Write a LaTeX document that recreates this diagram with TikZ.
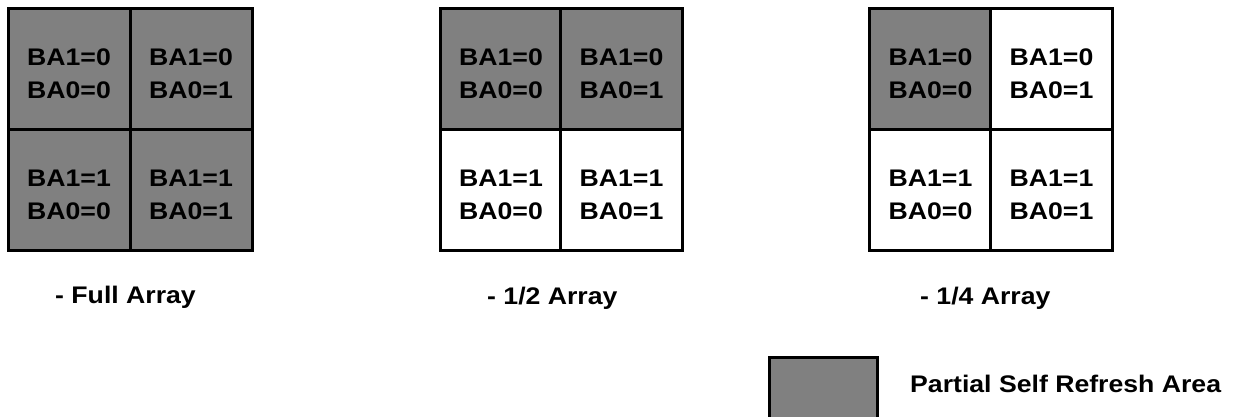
\documentclass[tikz,border=0pt]{standalone}
\usepackage{fontspec}
\newfontfamily\labfont[FakeStretch=1.11]{Liberation Sans Bold}
\definecolor{cellgray}{HTML}{808080}
\begin{document}
\begin{tikzpicture}[x=1pt,y=-1pt,
  cellbox/.style={draw=black,line width=3pt,minimum width=122pt,minimum height=121pt,inner sep=0pt,outer sep=0pt},
  shaded/.style={cellbox,fill=cellgray},
  plain/.style={cellbox,fill=white},
  celltext/.style={font=\labfont\fontsize{24}{33}\selectfont,align=center,inner sep=0pt,text=black},
  caption/.style={font=\labfont\fontsize{24}{28}\selectfont,anchor=base west,inner sep=0pt,text=black}]
\useasboundingbox (0,0) rectangle (1235,416);
% Grid 1 - Full Array
\node[shaded] (a11) at (69,68.5) {};
\node[shaded] (a12) at (191,68.5) {};
\node[shaded] (a21) at (69,189.5) {};
\node[shaded] (a22) at (191,189.5) {};
% Grid 2 - 1/2 Array
\node[shaded] (b11) at (501,68.5) {};
\node[shaded] (b12) at (621.5,68.5) {};
\node[plain] (b21) at (501,189.5) {};
\node[plain] (b22) at (621.5,189.5) {};
% Grid 3 - 1/4 Array
\node[shaded] (c11) at (930.5,68.5) {};
\node[plain] (c12) at (1051.5,68.5) {};
\node[plain] (c21) at (930.5,189.5) {};
\node[plain] (c22) at (1051.5,189.5) {};
% cell texts
\foreach \g in {a,b,c}{
  \node[celltext] (\g11t) at ([yshift=-5pt]\g11.center) {BA1=0\\BA0=0};
  \node[celltext] (\g12t) at ([yshift=-5pt]\g12.center) {BA1=0\\BA0=1};
  \node[celltext] (\g21t) at ([yshift=-5pt]\g21.center) {BA1=1\\BA0=0};
  \node[celltext] (\g22t) at ([yshift=-5pt]\g22.center) {BA1=1\\BA0=1};
}
% captions
\node[caption] (capa) at (55,303) {- Full Array};
\node[caption] (capb) at (487,304) {- 1/2 Array};
\node[caption] (capc) at (920,304) {- 1/4 Array};
% legend
\node[draw=black,line width=3pt,fill=cellgray,minimum width=108pt,minimum height=70pt,inner sep=0pt,outer sep=0pt] (leg) at (823,392) {};
\node[caption] (legt) at (910,392) {Partial Self Refresh Area};
\end{tikzpicture}
\end{document}
